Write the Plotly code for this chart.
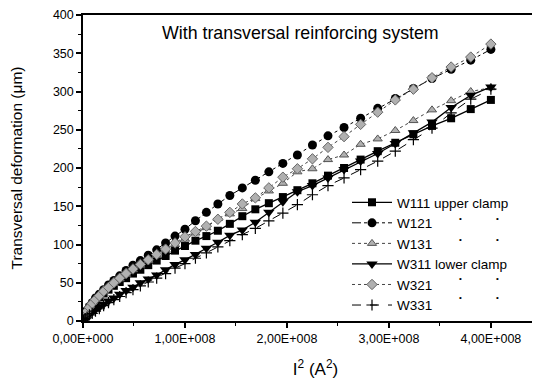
import plotly.graph_objects as go

# I^2 values (A^2)
x_vals = [0, 0.0025e8, 0.01e8, 0.0225e8, 0.04e8, 0.0625e8, 0.09e8, 0.1225e8, 0.16e8, 0.2025e8,
          0.25e8, 0.3025e8, 0.36e8, 0.4225e8, 0.49e8, 0.5625e8, 0.64e8, 0.7225e8, 0.81e8, 0.9025e8,
          1.0e8, 1.1025e8, 1.21e8, 1.3225e8, 1.44e8, 1.5625e8, 1.69e8, 1.8225e8, 1.96e8, 2.1025e8,
          2.25e8, 2.4025e8, 2.56e8, 2.7225e8, 2.89e8, 3.0625e8, 3.24e8, 3.4225e8, 3.61e8, 3.8025e8, 4.0e8]

w111 = [0, 2, 4, 8, 12, 16, 21, 26, 31, 36, 41, 46, 51, 56, 62, 67, 73, 79, 85, 92,
        98, 105, 111, 118, 127, 137, 146, 154, 162, 171, 180, 190, 200, 211, 222, 233, 244, 255, 265, 277, 289]
w121 = [0, 2, 5, 9, 14, 19, 24, 30, 35, 41, 47, 53, 59, 66, 73, 79, 86, 93, 102, 111,
        120, 131, 142, 153, 164, 174, 184, 195, 206, 217, 230, 242, 253, 265, 278, 291, 304, 317, 329, 341, 355]
w131 = [0, 2, 5, 9, 13, 18, 23, 28, 33, 38, 44, 49, 55, 61, 67, 73, 79, 86, 93, 100,
        107, 115, 122, 134, 140, 147, 160, 170, 180, 195, 199, 211, 217, 231, 238, 249, 262, 276, 288, 300, 305]
w311 = [0, 1, 2, 4, 6, 9, 12, 15, 18, 22, 26, 30, 35, 40, 44, 50, 55, 60, 67, 74,
        80, 87, 95, 103, 112, 119, 129, 142, 156, 169, 177, 187, 198, 209, 219, 232, 246, 260, 279, 295, 306]
w321 = [0, 2, 5, 9, 13, 18, 23, 28, 33, 39, 44, 50, 56, 62, 68, 74, 80, 87, 94, 102,
        110, 117, 124, 133, 142, 153, 161, 174, 188, 199, 212, 227, 241, 257, 273, 289, 303, 318, 332, 345, 362]
w331 = [0, 1, 2, 3, 5, 8, 10, 13, 16, 20, 24, 28, 32, 37, 41, 46, 51, 56, 62, 69,
        75, 82, 89, 97, 105, 113, 121, 131, 141, 152, 165, 177, 187, 198, 209, 222, 237, 252, 272, 290, 303]

x_tickvals = [0, 1e8, 2e8, 3e8, 4e8]
x_ticktext = ["0,00E+000", "1,00E+008", "2,00E+008", "3,00E+008", "4,00E+008"]
y_tickvals = [0, 50, 100, 150, 200, 250, 300, 350, 400]

FONT = "Liberation Sans, Arial, sans-serif"
GREY = "#b0b0b0"

series = [
    ("W111 upper clamp", w111, dict(symbol="square", size=8, color="black"), dict(color="black", width=1.3, dash="solid")),
    ("W121", w121, dict(symbol="circle", size=9, color="black"), dict(color="black", width=1, dash="dashdot")),
    ("W131", w131, dict(symbol="triangle-up", size=8, color=GREY, line=dict(color="#555", width=1)), dict(color="#444", width=1, dash="dot")),
    ("W311 lower clamp", w311, dict(symbol="triangle-down", size=10, color="black"), dict(color="black", width=1.3, dash="solid")),
    ("W321", w321, dict(symbol="diamond", size=8, color=GREY, line=dict(color="#666", width=1)), dict(color="#444", width=1, dash="dot")),
    ("W331", w331, dict(symbol="cross-thin", size=8, color="black", line=dict(color="black", width=1.2)), dict(color="black", width=1, dash="dash")),
]

fig = go.Figure()
for name, ys, marker, line in series:
    fig.add_trace(go.Scatter(x=x_vals, y=ys, mode="lines+markers", name=name,
                             marker=marker, line=line))

# page body has an 8px margin; plot area spans screen x 83..(beyond 540), y 15..321
PW = 465.0
PH = 306.0
def px(sx):
    return (sx - 83) / PW
def py(sy):
    return (321 - sy) / PH

fig.update_layout(
    width=540, height=386,
    margin=dict(l=75, r=0, t=7, b=73),
    plot_bgcolor="white", paper_bgcolor="white",
    font=dict(family=FONT, color="black", size=12),
    showlegend=True,
    legend=dict(x=px(347), y=py(187), xanchor="left", yanchor="top",
                bgcolor="rgba(0,0,0,0)", font=dict(size=13.5, family=FONT),
                itemwidth=40, tracegroupgap=0),
    xaxis=dict(range=[0, 4.56e8], tickvals=x_tickvals, ticktext=x_ticktext, automargin=False,
               showgrid=False, zeroline=False, showline=True, linecolor="black", linewidth=1.5,
               mirror=True, ticks="outside", ticklen=5, tickcolor="black", tickwidth=1.5,
               tickfont=dict(size=12.5), ticklabeloverflow="allow",
               minor=dict(tickvals=[0.5e8, 1.5e8, 2.5e8, 3.5e8], ticks="outside", ticklen=3,
                          tickcolor="black", tickwidth=1.2),
               title=dict(text="I<sup>2</sup> (A<sup>2</sup>)", font=dict(size=17), standoff=18)),
    yaxis=dict(range=[0, 400], tickvals=y_tickvals, automargin=False,
               showgrid=False, zeroline=False, showline=True, linecolor="black", linewidth=1.5,
               ticks="outside", ticklen=5, tickcolor="black", tickwidth=1.5,
               tickfont=dict(size=12.5), ticklabeloverflow="allow",
               minor=dict(tickvals=[25, 75, 125, 175, 225, 275, 325, 375], ticks="outside", ticklen=3,
                          tickcolor="black", tickwidth=1.2),
               title=dict(text="Transversal deformation (μm)", font=dict(size=15.5), standoff=26)),
)

fig.add_annotation(text="With transversal reinforcing system", xref="paper", yref="paper",
                   x=px(300), y=py(33), xanchor="center", yanchor="middle",
                   showarrow=False, font=dict(size=17.8, family=FONT))

# ditto marks in legend
for row_y in [218, 239, 278, 297]:
    for col_x in [460, 497]:
        fig.add_annotation(text="•", xref="paper", yref="paper",
                           x=px(col_x), y=py(row_y),
                           xanchor="center", yanchor="middle", showarrow=False,
                           font=dict(size=8, family=FONT, color="black"))

fig.write_html("out.html")
